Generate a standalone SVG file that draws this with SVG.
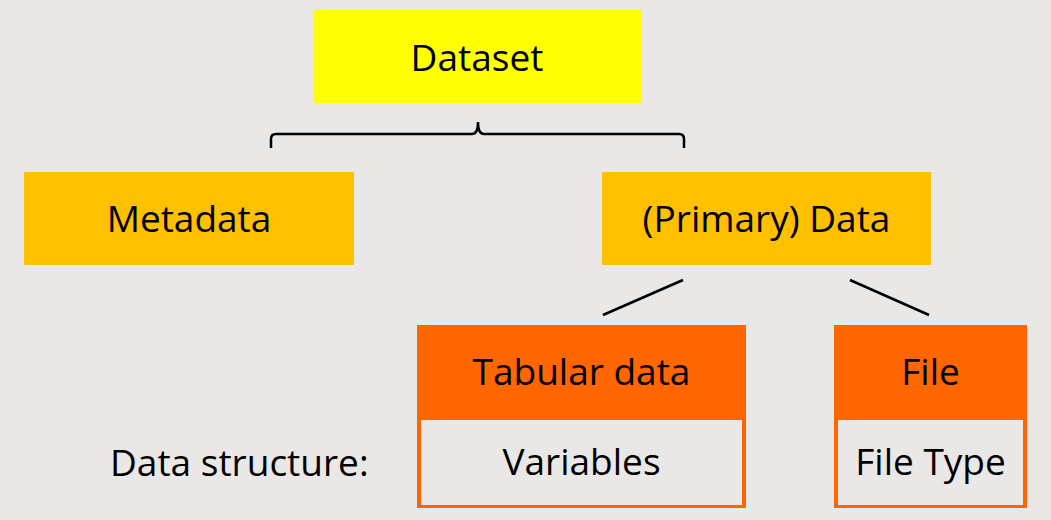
<svg xmlns="http://www.w3.org/2000/svg" width="1051" height="520" viewBox="0 0 1051 520">
<style>
.t{font-family:"Open Sans","Liberation Sans",sans-serif;font-size:37px;fill:#000;text-anchor:middle}
.c{fill:none;stroke:#000;stroke-width:2.5}
</style>
<rect width="1051" height="520" fill="#EAE8E6"/>
<g id="dataset"><rect x="313" y="10" width="328" height="93" fill="#FFFF00"/><text class="t" x="477" y="71">Dataset</text></g>
<g id="metadata"><rect x="24" y="172" width="330" height="93" fill="#FFC000"/><text class="t" x="189" y="232">Metadata</text></g>
<g id="primary"><rect x="602" y="172" width="329" height="93" fill="#FFC000"/><text class="t" x="766.5" y="232">(Primary) Data</text></g>
<g id="tabular"><rect x="417" y="325" width="329" height="183" fill="#FF6600"/><rect x="421" y="420" width="321" height="85" fill="#EAE8E6"/><text class="t" x="581.5" y="385">Tabular data</text><text class="t" x="581.5" y="475">Variables</text></g>
<g id="file"><rect x="834" y="325" width="193" height="183" fill="#FF6600"/><rect x="838" y="420" width="185" height="85" fill="#EAE8E6"/><text class="t" x="930.5" y="385">File</text><text class="t" x="930.5" y="475">File Type</text></g>
<g id="label"><text class="t" x="110" y="476" style="text-anchor:start">Data structure:</text></g>
<g id="connectors">
<path class="c" d="M271,148 V139 Q271,134 276,134 H472 Q478,134 478,122 Q478,134 484,134 H679 Q684,134 684,139 V148"/>
<line class="c" x1="683" y1="280" x2="603" y2="315"/>
<line class="c" x1="850" y1="280" x2="929" y2="315"/>
</g>
</svg>
